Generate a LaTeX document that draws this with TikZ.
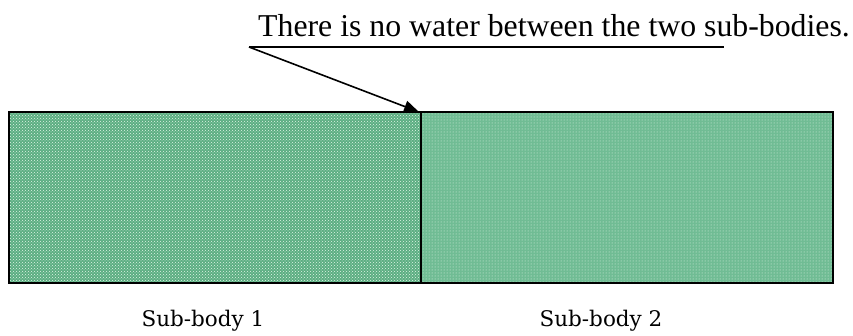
\documentclass[tikz,border=0pt]{standalone}
\usepackage{fontspec}
\setmainfont{Liberation Serif}
\newfontfamily\labelfont{DejaVu Serif}
\usetikzlibrary{arrows.meta,patterns}
\definecolor{greenA}{RGB}{92,174,130}
\definecolor{greenB}{RGB}{112,188,148}
\definecolor{speck}{RGB}{225,245,232}
\tikzset{
  body/.style={draw=black, line width=2pt, minimum width=412pt, minimum height=171pt, inner sep=0pt, outer sep=0pt},
  leader/.style={draw=black, line width=1.6pt},
  caption/.style={font=\labelfont\fontsize{21.5}{24}\selectfont, inner sep=0pt, anchor=base},
}
\begin{document}
\begin{tikzpicture}[x=1pt,y=-1pt]
\useasboundingbox (0,0) rectangle (853,336);
\node[body, fill=greenA, anchor=north west] (body1) at (9,112) {};
\fill[pattern=crosshatch dots, pattern color=speck] (body1.south west) rectangle (body1.north east);
\node[body, fill=greenB, anchor=north west] (body2) at (421,112) {};
\fill[pattern=dots, pattern color=speck] (body2.south west) rectangle (body2.north east);
\draw[line width=2pt] (body1.north west) rectangle (body2.south east);
\draw[line width=2pt] (body1.north east) -- (body1.south east);
\node[font=\fontsize{31.8}{36}\selectfont, inner sep=0pt, anchor=base west] (note) at (258,37) {There is no water between the two sub-bodies.};
\coordinate (lstart) at (249,47);
\coordinate (lend) at (724,47);
\coordinate (tip) at (419,112);
\draw[leader] (lstart) -- (lend);
\draw[leader, -{Triangle[length=15pt,width=12pt]}] (lstart) -- (tip);
\node[caption] (lab1) at (203,326) {Sub-body 1};
\node[caption] (lab2) at (601,326) {Sub-body 2};
\end{tikzpicture}
\end{document}
